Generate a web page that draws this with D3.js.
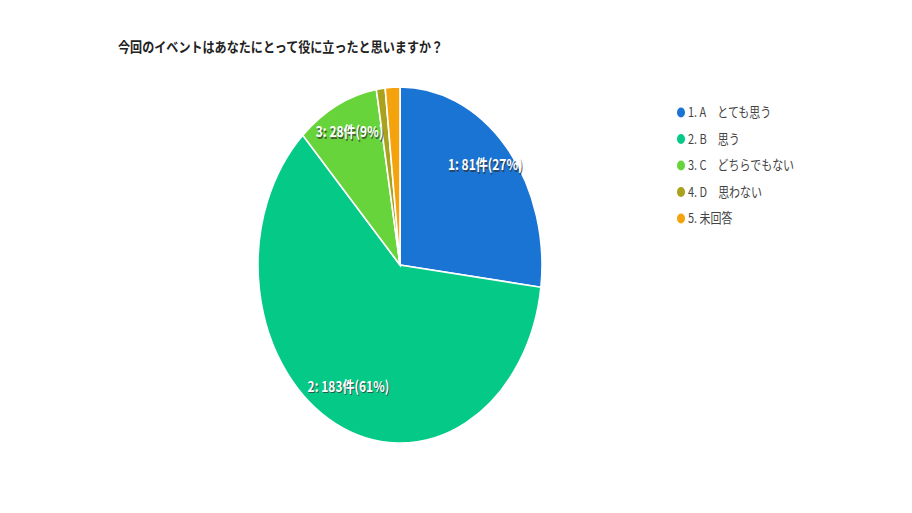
<!DOCTYPE html>
<html><head><meta charset="utf-8">
<script src="https://cdn.jsdelivr.net/npm/d3@7"></script>
<style>body{margin:0;background:#fff}</style>
</head><body>
<script>
const categories = ["1. A　とても思う","2. B　思う","3. C　どちらでもない","4. D　思わない","5. 未回答"];
const ids = ["1","2","3","4","5"];
const values = [81,183,28,3,5];
const percents = ["27%","61%","9%","1%","2%"];
const colors = ["#1a74d4","#05c987","#68d43b","#a9a21c","#f4a30d"];
const title = "今回のイベントはあなたにとって役に立ったと思いますか？";

const W=912,H=513;
const svg=d3.select("body").append("svg").attr("width",W).attr("height",H);
const font='"Noto Sans CJK JP", "Noto Sans", sans-serif';

svg.append("text").attr("transform","translate(118,47) scale(1,1.15)").attr("dy","0.36em")
  .attr("font-family",font).attr("font-size",12.1).attr("font-weight","bold").attr("fill","#222")
  .text(title);

const R=142, sy=1.254;
const g=svg.append("g").attr("transform",`translate(400,265) scale(1,${sy})`);
const pie=d3.pie().sort(null).value(d=>d);
const arcs=pie(values);
const arc=d3.arc().innerRadius(0).outerRadius(R);
g.selectAll("path").data(arcs).join("path").attr("d",arc)
  .attr("fill",(d,i)=>colors[i]).attr("stroke","#fff").attr("stroke-width",1.6)
  .attr("vector-effect","non-scaling-stroke");

const labelArc=d3.arc().innerRadius(R*0.8).outerRadius(R*0.8);
arcs.forEach((d,i)=>{
  if(values[i]<10) return;
  const [cx,cy]=labelArc.centroid(d);
  const t=`${ids[i]}: ${values[i]}件(${percents[i]})`;
  const lg=g.append("g").attr("transform",`translate(${cx},${cy-4.5})`);
  lg.append("text").attr("x",1).attr("y",1.2).attr("text-anchor","middle").attr("dy","0.35em")
    .attr("font-family",font).attr("font-size",12).attr("font-weight","bold")
    .attr("fill","#333").attr("opacity",0.7).text(t);
  lg.append("text").attr("text-anchor","middle").attr("dy","0.35em")
    .attr("font-family",font).attr("font-size",12).attr("font-weight","bold")
    .attr("fill","#fff").text(t);
});

const leg=svg.append("g");
categories.forEach((c,i)=>{
  const y=112.5+i*26.5;
  leg.append("ellipse").attr("cx",681).attr("cy",y).attr("rx",4).attr("ry",5).attr("fill",colors[i]);
  leg.append("text").attr("transform",`translate(688,${y}) scale(1,1.2)`).attr("dy","0.36em")
    .attr("font-family",font).attr("font-size",11).attr("fill","#444").text(c);
});
</script>
</body></html>
